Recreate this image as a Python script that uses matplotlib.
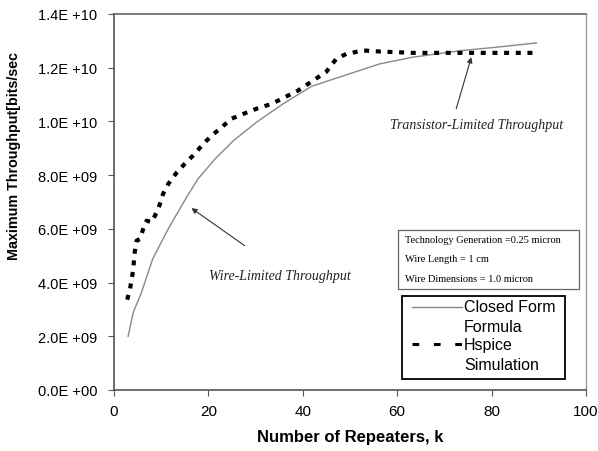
import matplotlib
matplotlib.use("Agg")
import matplotlib.pyplot as plt
from matplotlib.patches import Rectangle
from matplotlib.lines import Line2D

# Closed form formula
closed_k = [3.0, 4.1, 5.7, 8.2, 11.5, 15.4, 17.8, 21.4, 25.3, 30.2, 35.8, 41.8, 47.8, 56.3, 63.3, 73.9, 81.0, 89.5]
closed_t = [2.0e9, 2.9e9, 3.57e9, 4.88e9, 6.0e9, 7.18e9, 7.86e9, 8.6e9, 9.28e9, 9.97e9, 10.65e9, 11.3e9,
            11.65e9, 12.14e9, 12.39e9, 12.64e9, 12.76e9, 12.92e9]

# Hspice simulation
hspice_k = [2.8, 3.4, 4.1, 4.3, 4.8, 5.5, 6.2, 6.9, 8.0, 9.4, 10.4, 11.5, 13.3, 15.0, 17.1, 18.9, 20.7, 22.8,
            24.9, 27.7, 30.5, 33.4, 36.2, 39.0, 42.2, 45.0, 47.1, 49.2, 52.8, 56.3, 63.3, 89.8]
hspice_t = [3.36e9, 3.76e9, 4.5e9, 5.03e9, 5.56e9, 5.62e9, 6.0e9, 6.3e9, 6.25e9, 6.74e9, 7.3e9, 7.67e9,
            8.1e9, 8.42e9, 8.79e9, 9.16e9, 9.47e9, 9.78e9, 10.1e9, 10.3e9, 10.49e9, 10.65e9, 10.9e9,
            11.15e9, 11.52e9, 11.85e9, 12.33e9, 12.51e9, 12.64e9, 12.6e9, 12.55e9, 12.55e9]

x_ticks = [0, 20, 40, 60, 80, 100]
y_ticks = [0, 2e9, 4e9, 6e9, 8e9, 1e10, 1.2e10, 1.4e10]
y_labels = ["0.0E +00", "2.0E +09", "4.0E +09", "6.0E +09", "8.0E +09", "1.0E +10", "1.2E +10", "1.4E +10"]

legend_labels = [["Closed Form", "Formula"], ["Hspice", "Simulation"]]
info_lines = ["Technology Generation =0.25 micron", "Wire Length = 1 cm", "Wire Dimensions = 1.0 micron"]

plt.rcParams['font.family'] = ['Liberation Sans', 'DejaVu Sans']

fig = plt.figure(figsize=(5.98, 4.52), dpi=100)
ax = fig.add_axes([0.1906, 0.135, 0.7894, 0.832])

ax.plot(closed_k, closed_t, color='#888888', lw=1.0)
ax.plot(hspice_k, hspice_t, color='black', lw=3.0, dashes=(1.2, 1.6))

ax.set_xlim(0, 100)
ax.set_ylim(0, 1.4e10)
ax.set_xticks(x_ticks)
ax.set_xticklabels([str(v) for v in x_ticks], fontsize=11)
ax.set_yticks(y_ticks)
ax.set_yticklabels(y_labels, fontsize=10.5)
ax.tick_params(axis='both', direction='out', length=4, color='#555555')
ax.tick_params(axis='y', pad=8)
ax.tick_params(axis='x', pad=6)

for s in ['left', 'bottom']:
    ax.spines[s].set_color('#555555')
    ax.spines[s].set_linewidth(1.2)
ax.spines['top'].set_color('#666666')
ax.spines['top'].set_linewidth(1.2)
ax.spines['right'].set_color('#999999')
ax.spines['right'].set_linewidth(1.0)

ax.set_xlabel('Number of Repeaters, k', fontsize=12, fontweight='bold', labelpad=8)
ax.set_ylabel('Maximum Throughput[bits/sec', fontsize=10.3, fontweight='bold')
ax.yaxis.set_label_coords(-0.197, 0.625)

serif = ['Liberation Serif', 'DejaVu Serif']
arrow = dict(arrowstyle='-|>', color='#333333', lw=0.8, shrinkA=0, shrinkB=0, mutation_scale=8)
ax.annotate('', xy=(75.7, 12.39e9), xytext=(72.5, 10.47e9), arrowprops=arrow)
ax.text(76.8, 9.9e9, 'Transistor-Limited Throughput', fontsize=10, style='italic', family=serif,
        color='#222222', ha='center', va='center')
ax.annotate('', xy=(16.4, 6.77e9), xytext=(27.7, 5.37e9), arrowprops=arrow)
ax.text(35.1, 4.26e9, 'Wire-Limited Throughput', fontsize=10, style='italic', family=serif,
        color='#222222', ha='center', va='center')

# info box
ax.add_patch(Rectangle((0.602, 0.2686), 0.383, 0.157, transform=ax.transAxes, fc='white',
                       ec='#666666', lw=0.9, zorder=4))
for line, yy in zip(info_lines, [0.3995, 0.349, 0.2955]):
    ax.text(0.617, yy, line, transform=ax.transAxes, fontsize=7.5, family=serif,
            va='center', ha='left', zorder=5)

# legend box
ax.add_patch(Rectangle((0.610, 0.029), 0.346, 0.221, transform=ax.transAxes, fc='white',
                       ec='black', lw=1.3, zorder=4))
ax.add_line(Line2D([0.631, 0.737], [0.221, 0.221], transform=ax.transAxes, color='#888888',
                   lw=1.0, zorder=5))
ax.add_line(Line2D([0.631, 0.737], [0.122, 0.122], transform=ax.transAxes, color='black',
                   lw=2.2, dashes=(2.2, 4.8), zorder=5))
for (l1, l2), (y1, y2) in zip(legend_labels, [(0.221, 0.168), (0.122, 0.069)]):
    ax.text(0.742, y1, l1, transform=ax.transAxes, fontsize=11.5, va='center', ha='left', zorder=5)
    ax.text(0.742, y2, l2, transform=ax.transAxes, fontsize=11.5, va='center', ha='left', zorder=5)

fig.savefig('out.png', dpi=100)
